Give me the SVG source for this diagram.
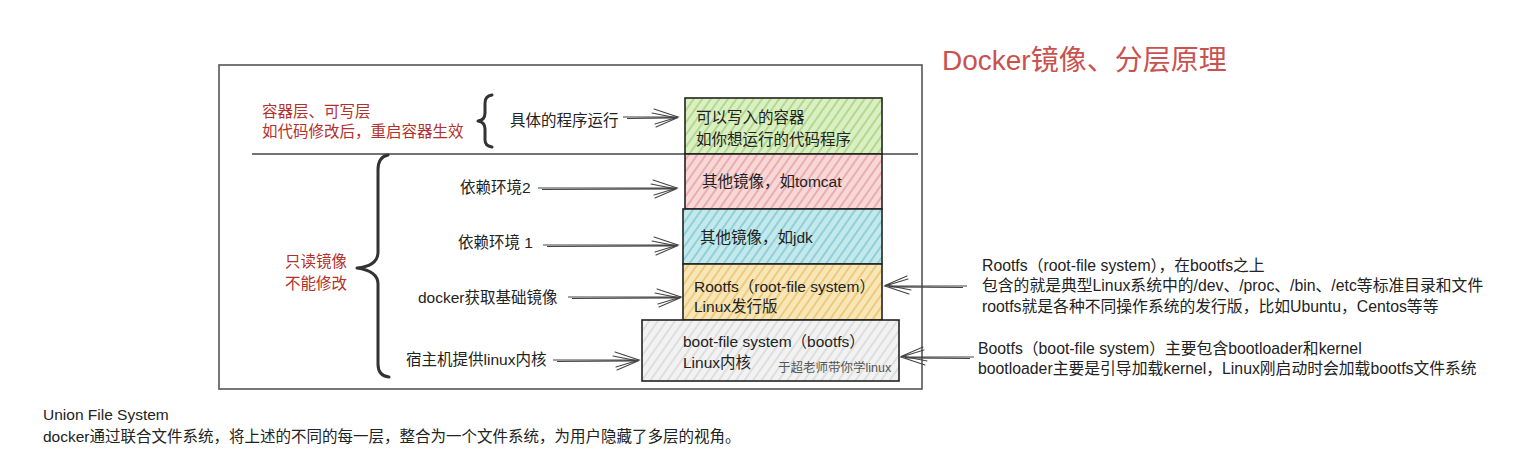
<svg xmlns="http://www.w3.org/2000/svg" width="1514" height="463" viewBox="0 0 1514 463">
<style>
text{font-family:"Liberation Sans","Noto Sans CJK SC",sans-serif;font-size:15.5px;fill:#222}
.red{fill:#b3302c}
.title{fill:#c9524f;font-size:28px}
.small{font-size:12.5px;fill:#555}
.note{font-size:15.8px}
.box{stroke:#222;stroke-width:1.6}
.frame{fill:none;stroke:#555;stroke-width:1.6}
.brace{fill:none;stroke:#333;stroke-width:3;stroke-linecap:round;stroke-linejoin:round}
.arrow{fill:none;stroke:#444;stroke-width:1.2;marker-end:url(#head)}
</style>
<defs>
<marker id="head" markerUnits="userSpaceOnUse" markerWidth="34" markerHeight="30" viewBox="-30 -15 34 30" refX="0" refY="0" orient="auto">
<path d="M-24,-8 L0,0 L-23,7 M-26,-4 L-1,1 L-22,10" fill="none" stroke="#444" stroke-width="1.1" stroke-linecap="round"/>
</marker>
<pattern id="hG" width="7" height="7" patternUnits="userSpaceOnUse" patternTransform="rotate(35)"><rect width="7" height="7" fill="#dbefc4"/><line x1="2" y1="0" x2="2" y2="7" stroke="#a9d47e" stroke-width="1.6"/></pattern>
<pattern id="hR" width="7" height="7" patternUnits="userSpaceOnUse" patternTransform="rotate(35)"><rect width="7" height="7" fill="#f7d7d7"/><line x1="2" y1="0" x2="2" y2="7" stroke="#e9a3a3" stroke-width="1.6"/></pattern>
<pattern id="hC" width="7" height="7" patternUnits="userSpaceOnUse" patternTransform="rotate(35)"><rect width="7" height="7" fill="#c4e8eb"/><line x1="2" y1="0" x2="2" y2="7" stroke="#7fcdd4" stroke-width="1.6"/></pattern>
<pattern id="hY" width="7" height="7" patternUnits="userSpaceOnUse" patternTransform="rotate(35)"><rect width="7" height="7" fill="#f8e6b8"/><line x1="2" y1="0" x2="2" y2="7" stroke="#ecc46c" stroke-width="1.6"/></pattern>
<pattern id="hW" width="7" height="7" patternUnits="userSpaceOnUse" patternTransform="rotate(35)"><rect width="7" height="7" fill="#f2f2f2"/><line x1="2" y1="0" x2="2" y2="7" stroke="#d6d6d6" stroke-width="1.4"/></pattern>
</defs>
<rect width="1514" height="463" fill="#ffffff"/>

<g id="title"><text class="title" x="942" y="70">Docker镜像、分层原理</text></g>

<g id="frame">
<rect class="frame" x="219" y="65" width="703" height="324"/>
<line x1="252" y1="154" x2="918" y2="154" stroke="#444" stroke-width="1.6"/>
</g>

<g id="container-label">
<text class="red" x="262" y="117">容器层、可写层</text>
<text class="red" x="262" y="137">如代码修改后，重启容器生效</text>
<path class="brace" d="M492,95 Q485,96 485,103 L485,113 Q485,120 478,121 Q485,122 485,129 L485,140 Q485,146 492,147"/>
<text x="510" y="126">具体的程序运行</text>
</g>

<g id="readonly-label">
<text class="red" x="285" y="267">只读镜像</text>
<text class="red" x="285" y="289">不能修改</text>
<path class="brace" d="M388,155 Q378,157 378,170 L378,252 Q378,266 357,268 Q378,271 378,284 L378,364 Q378,376 389,377"/>
</g>

<g id="layer-container">
<rect class="box" x="685" y="98" width="197" height="56" fill="url(#hG)"/>
<text x="696" y="123">可以写入的容器</text>
<text x="696" y="145">如你想运行的代码程序</text>
</g>
<g id="layer-tomcat">
<rect class="box" x="685" y="154" width="197" height="55" fill="url(#hR)"/>
<text x="702" y="187">其他镜像，如tomcat</text>
</g>
<g id="layer-jdk">
<rect class="box" x="683" y="209" width="199" height="55" fill="url(#hC)"/>
<text x="700" y="243">其他镜像，如jdk</text>
</g>
<g id="layer-rootfs">
<rect class="box" x="683" y="264" width="199" height="56" fill="url(#hY)"/>
<text x="694" y="292">Rootfs（root-file system）</text>
<text x="694" y="312">Linux发行版</text>
</g>
<g id="layer-bootfs">
<rect class="box" x="642" y="320" width="257" height="61" fill="url(#hW)"/>
<text x="683" y="347">boot-file system（bootfs）</text>
<text x="683" y="368">Linux内核</text>
<text class="small" x="778" y="372">于超老师带你学linux</text>
</g>

<g id="labels-left">
<text x="460" y="193">依赖环境2</text>
<text x="458" y="248">依赖环境 1</text>
<text x="418" y="303">docker获取基础镜像</text>
<text x="406" y="365">宿主机提供linux内核</text>
</g>

<g id="notes-right">
<text class="note" x="982" y="271">Rootfs（root-file system），在bootfs之上</text>
<text class="note" x="982" y="291">包含的就是典型Linux系统中的/dev、/proc、/bin、/etc等标准目录和文件</text>
<text class="note" x="982" y="312">rootfs就是各种不同操作系统的发行版，比如Ubuntu，Centos等等</text>
<text class="note" x="978" y="354">Bootfs（boot-file system）主要包含bootloader和kernel</text>
<text class="note" x="978" y="374">bootloader主要是引导加载kernel，Linux刚启动时会加载bootfs文件系统</text>
</g>

<g id="notes-bottom">
<text x="43" y="420">Union File System</text>
<text x="43" y="442">docker通过联合文件系统，将上述的不同的每一层，整合为一个文件系统，为用户隐藏了多层的视角。</text>
</g>

<g id="connectors">
<path class="arrow" d="M627,118.5 L674,118 M623,117 L678,117"/>
<path class="arrow" d="M542,189.5 L673,189 M538,188 L677,188"/>
<path class="arrow" d="M547,246.5 L674,246 M543,245 L678,245"/>
<path class="arrow" d="M572,298.5 L677,298 M568,297 L681,297"/>
<path class="arrow" d="M557,361.5 L635,361 M553,360 L639,360"/>
<path class="arrow" d="M963,287.5 L889,287 M967,286 L885,286"/>
<path class="arrow" d="M970,358.5 L905,358 M974,357 L901,357"/>
</g>
</svg>
